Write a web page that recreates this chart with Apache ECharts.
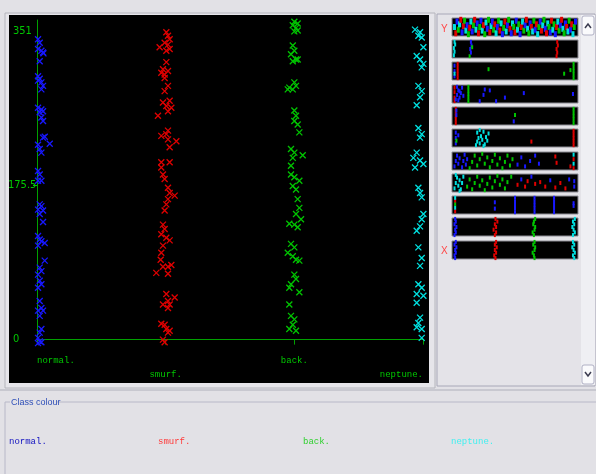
<!DOCTYPE html>
<html>
<head>
<meta charset="utf-8">
<script src="https://cdn.jsdelivr.net/npm/echarts@6/dist/echarts.min.js"></script>
<style>
  html, body { margin: 0; padding: 0; background: #e2e1e6; }
  #chart { width: 596px; height: 474px; }
</style>
</head>
<body>
<div id="chart"></div>
<script>
// class labels (x axis) and y ticks
const classNames = ['normal.', 'smurf.', 'back.', 'neptune.']
const yTicks = [0, 351]
const yMidTick = [175.5]

// main plot: [class position + jitter, instance number]
const normalPts = [
  [0.008, 342], [0.021, 338], [0.008, 331], [0.034, 329], [0.047, 327], [0.05, 326], [0.021, 317],
  [0.008, 300], [0.021, 297], [0.008, 295], [0.034, 293], [0.047, 289], [0.034, 285],
  [0.008, 264], [0.034, 262], [0.047, 260], [0.021, 259], [0.034, 253], [0.047, 249],
  [0.047, 230], [0.06, 231], [0.008, 222], [0.099, 223], [0.021, 217], [0.034, 213],
  [0.008, 192], [0.021, 188], [0.008, 181], [0.034, 181],
  [0.021, 154], [0.034, 152], [0.008, 148], [0.047, 147], [0.021, 143], [0.047, 134],
  [0.008, 118], [0.021, 114], [0.034, 112], [0.06, 110], [0.008, 107],
  [0.06, 90], [0.021, 82], [0.034, 78], [0.008, 74],
  [0.021, 67], [0.034, 63], [0.008, 59],
  [0.021, 44], [0.034, 36], [0.047, 33], [0.008, 33], [0.021, 27],
  [0.034, 12], [0.021, 8], [0.008, 2], [0.021, -2], [0.034, -3], [0.008, -4]
]
const smurfPts = [
  [1.005, 350], [1.018, 346], [1.031, 342], [0.992, 338], [1.018, 336], [0.953, 333], [1.031, 331], [1.005, 329],
  [1.005, 316], [0.979, 308], [0.966, 304], [0.992, 302], [1.018, 306], [0.992, 298],
  [1.018, 289], [0.992, 283],
  [0.979, 270], [1.031, 272], [1.005, 266], [1.044, 264], [1.018, 260], [0.94, 255],
  [1.018, 238], [1.005, 234], [0.966, 232], [1.018, 228], [1.083, 226], [1.031, 219],
  [0.966, 202], [1.031, 202], [0.966, 196], [0.979, 188], [0.992, 183],
  [1.018, 173], [1.031, 167], [1.07, 164], [1.018, 160], [1.005, 154], [0.992, 147],
  [0.979, 131], [0.992, 126], [0.966, 120], [1.005, 116], [1.031, 113], [0.979, 107],
  [0.966, 99], [0.961, 91], [1.044, 85], [0.979, 83], [1.018, 83], [0.927, 76], [1.018, 75],
  [1.005, 52], [1.07, 48], [1.018, 44], [0.979, 40], [1.031, 40], [1.018, 36],
  [0.966, 18], [0.992, 17], [1.005, 12], [1.018, 8], [1.031, 10], [0.979, 0], [0.992, -3]
]
const backPts = [
  [2, 362], [2.026, 360], [1.988, 358], [2.013, 355], [2, 351], [2.026, 352],
  [1.988, 335], [2, 329], [1.974, 325], [2.013, 319], [1.988, 317], [2.026, 319],
  [2, 293], [1.961, 287], [1.988, 285], [1.949, 285], [2.013, 289],
  [2, 261], [2.013, 255], [2, 249], [2.026, 245], [2.039, 236],
  [1.974, 217], [2, 213], [2.065, 210], [1.988, 207], [1.974, 198],
  [1.974, 188], [2, 185], [2.039, 181], [1.988, 175], [2.013, 171], [2.026, 160],
  [2.039, 150], [2.013, 143], [2.052, 137], [1.961, 132], [2, 131], [2.026, 128],
  [1.974, 109], [2, 105], [1.949, 99], [1.988, 95], [2.013, 91], [2.039, 90],
  [2, 74], [2.013, 69], [1.974, 63], [1.961, 59], [2.039, 54], [1.961, 40],
  [1.974, 27], [2, 23], [1.988, 17], [1.961, 12], [2.013, 10]
]
const neptunePts = [
  [2.938, 353], [2.977, 350], [2.964, 346], [2.99, 344], [3.003, 333],
  [2.951, 323], [2.977, 319], [3.003, 314], [2.99, 310],
  [2.964, 289], [2.99, 283], [2.977, 276], [2.951, 267],
  [2.964, 241], [2.99, 234], [2.977, 230],
  [2.951, 213], [2.925, 207], [2.977, 204], [3.003, 200], [2.938, 196],
  [2.964, 173], [2.977, 167], [2.99, 162],
  [3.003, 143], [2.99, 137], [2.977, 129], [2.951, 124],
  [2.964, 105], [2.99, 93], [2.977, 84],
  [2.964, 63], [2.99, 59], [2.951, 52], [3.003, 50], [2.951, 42],
  [2.977, 25], [2.964, 19], [2.951, 14], [2.99, 12], [2.99, 2]
]

// attribute strips on the right: [x fraction, y fraction, class index]
const strip1 = [
  [0.02, 0.5, 3], [0.03, 0.15, 1], [0.04, 0.8, 0], [0.05, 0.35, 2], [0.06, 0.65, 3], [0.07, 0.9, 1], [0.08, 0.2, 0],
  [0.09, 0.55, 1], [0.1, 0.85, 2], [0.11, 0.3, 3], [0.12, 0.6, 0], [0.13, 0.1, 2], [0.14, 0.45, 1], [0.15, 0.8, 3],
  [0.16, 0.25, 0], [0.17, 0.6, 2], [0.18, 0.9, 1], [0.19, 0.35, 3], [0.2, 0.7, 0], [0.21, 0.15, 1], [0.22, 0.5, 2],
  [0.23, 0.85, 0], [0.24, 0.3, 3], [0.25, 0.6, 1], [0.26, 0.1, 2], [0.27, 0.75, 3], [0.28, 0.4, 0], [0.29, 0.9, 2],
  [0.3, 0.2, 1], [0.31, 0.55, 3], [0.32, 0.8, 0], [0.33, 0.35, 2], [0.34, 0.65, 1], [0.35, 0.15, 3], [0.36, 0.5, 0],
  [0.37, 0.85, 2], [0.38, 0.3, 1], [0.39, 0.7, 3], [0.4, 0.1, 0], [0.41, 0.45, 2], [0.42, 0.8, 1], [0.43, 0.25, 3],
  [0.44, 0.6, 0], [0.45, 0.9, 2], [0.46, 0.4, 1], [0.47, 0.15, 0], [0.48, 0.7, 3], [0.49, 0.5, 2], [0.5, 0.2, 1],
  [0.51, 0.85, 0], [0.52, 0.35, 3], [0.53, 0.65, 2], [0.54, 0.1, 0], [0.55, 0.5, 1], [0.56, 0.8, 3], [0.57, 0.3, 2],
  [0.58, 0.6, 0], [0.59, 0.9, 1], [0.6, 0.4, 3], [0.61, 0.15, 2], [0.62, 0.7, 0], [0.63, 0.5, 1], [0.64, 0.25, 3],
  [0.65, 0.85, 2], [0.66, 0.35, 0], [0.67, 0.65, 1], [0.68, 0.1, 3], [0.69, 0.5, 2], [0.7, 0.8, 0], [0.71, 0.3, 1],
  [0.72, 0.6, 3], [0.73, 0.9, 2], [0.74, 0.4, 0], [0.75, 0.15, 1], [0.76, 0.7, 3], [0.77, 0.5, 2], [0.78, 0.2, 0],
  [0.79, 0.85, 1], [0.8, 0.35, 3], [0.81, 0.65, 2], [0.82, 0.1, 0], [0.83, 0.5, 1], [0.84, 0.8, 3], [0.85, 0.3, 2],
  [0.86, 0.6, 0], [0.87, 0.9, 1], [0.88, 0.4, 3], [0.89, 0.15, 2], [0.9, 0.7, 0], [0.91, 0.5, 1], [0.92, 0.25, 3],
  [0.93, 0.85, 2], [0.94, 0.35, 0], [0.95, 0.65, 1], [0.96, 0.1, 3], [0.97, 0.5, 2], [0.98, 0.8, 0]
]
const strip2 = [
  [0.015, 0.15, 3], [0.02, 0.35, 3], [0.015, 0.55, 3], [0.025, 0.75, 3], [0.02, 0.9, 3],
  [0.14, 0.1, 2], [0.15, 0.3, 0], [0.145, 0.5, 0], [0.155, 0.7, 0], [0.15, 0.9, 0], [0.16, 0.6, 2],
  [0.83, 0.1, 1], [0.835, 0.3, 1], [0.83, 0.5, 1], [0.84, 0.7, 1], [0.835, 0.9, 1]
]
const strip3 = [
  [0.02, 0.2, 0], [0.02, 0.5, 0], [0.02, 0.8, 0], [0.02, 0.35, 3],
  [0.045, 0.1, 1], [0.045, 0.3, 1], [0.045, 0.5, 1], [0.045, 0.7, 1], [0.045, 0.9, 1],
  [0.29, 0.6, 2], [0.89, 0.35, 2], [0.94, 0.55, 2],
  [0.965, 0.1, 2], [0.965, 0.3, 2], [0.965, 0.5, 2], [0.965, 0.7, 2], [0.965, 0.9, 2]
]
const strip4 = [
  [0.02, 0.1, 1], [0.02, 0.3, 1], [0.02, 0.6, 1], [0.02, 0.85, 1],
  [0.03, 0.2, 0], [0.04, 0.45, 0], [0.05, 0.7, 0], [0.06, 0.3, 0], [0.07, 0.55, 0], [0.08, 0.85, 0],
  [0.05, 0.15, 0], [0.09, 0.4, 0], [0.04, 0.9, 0], [0.06, 0.65, 0],
  [0.13, 0.1, 2], [0.13, 0.3, 2], [0.13, 0.5, 2], [0.13, 0.7, 2], [0.13, 0.9, 2],
  [0.22, 0.1, 0], [0.35, 0.1, 0], [0.25, 0.45, 0], [0.26, 0.75, 0], [0.3, 0.7, 0], [0.42, 0.3, 0],
  [0.57, 0.55, 0], [0.96, 0.5, 0]
]
const strip5 = [
  [0.03, 0.1, 1], [0.03, 0.3, 1], [0.03, 0.5, 1], [0.03, 0.7, 1], [0.03, 0.9, 1],
  [0.035, 0.55, 0], [0.035, 0.8, 0], [0.49, 0.2, 0], [0.5, 0.55, 2],
  [0.965, 0.1, 2], [0.965, 0.3, 2], [0.965, 0.5, 2], [0.965, 0.7, 2], [0.965, 0.9, 2]
]
const strip6 = [
  [0.03, 0.2, 0], [0.03, 0.5, 0], [0.03, 0.8, 0], [0.035, 0.35, 2], [0.05, 0.65, 0],
  [0.19, 0.1, 3], [0.2, 0.3, 3], [0.21, 0.5, 3], [0.2, 0.8, 3], [0.22, 0.2, 3], [0.23, 0.6, 3], [0.24, 0.4, 3],
  [0.25, 0.85, 3], [0.26, 0.15, 3], [0.27, 0.55, 3], [0.28, 0.35, 3], [0.29, 0.75, 3], [0.22, 0.95, 3], [0.25, 0.05, 3],
  [0.63, 0.3, 1],
  [0.965, 0.1, 1], [0.965, 0.3, 1], [0.965, 0.5, 1], [0.965, 0.7, 1], [0.965, 0.9, 1]
]
const strip7 = [
  [0.02, 0.2, 0], [0.03, 0.5, 0], [0.04, 0.8, 0], [0.05, 0.35, 0], [0.06, 0.65, 0], [0.08, 0.15, 0],
  [0.09, 0.5, 0], [0.1, 0.85, 0], [0.11, 0.3, 0], [0.12, 0.6, 0],
  [0.14, 0.1, 2], [0.16, 0.45, 2], [0.18, 0.8, 2], [0.2, 0.25, 2], [0.22, 0.6, 2], [0.24, 0.9, 2],
  [0.26, 0.35, 2], [0.28, 0.7, 2], [0.3, 0.15, 2], [0.32, 0.5, 2], [0.34, 0.85, 2], [0.36, 0.3, 2],
  [0.38, 0.65, 2], [0.4, 0.1, 2], [0.42, 0.45, 2], [0.44, 0.8, 2], [0.46, 0.25, 2], [0.48, 0.6, 2],
  [0.52, 0.3, 0], [0.55, 0.7, 0], [0.58, 0.2, 0], [0.62, 0.5, 0], [0.66, 0.8, 0], [0.69, 0.35, 0],
  [0.83, 0.4, 1], [0.94, 0.2, 1], [0.82, 0.75, 1],
  [0.965, 0.1, 1], [0.965, 0.35, 3], [0.965, 0.6, 1], [0.965, 0.85, 3]
]
const strip8 = [
  [0.02, 0.2, 3], [0.03, 0.5, 3], [0.04, 0.8, 3], [0.05, 0.35, 3], [0.06, 0.65, 3], [0.07, 0.15, 3],
  [0.08, 0.5, 3], [0.09, 0.85, 3], [0.03, 0.95, 3], [0.06, 0.05, 3],
  [0.12, 0.3, 2], [0.14, 0.7, 2], [0.16, 0.15, 2], [0.18, 0.5, 2], [0.2, 0.85, 2], [0.22, 0.35, 2],
  [0.24, 0.65, 2], [0.26, 0.1, 2], [0.28, 0.45, 2], [0.3, 0.8, 2], [0.32, 0.25, 2], [0.34, 0.6, 2],
  [0.36, 0.9, 2], [0.38, 0.4, 2], [0.4, 0.7, 2], [0.42, 0.2, 2], [0.44, 0.55, 2], [0.47, 0.85, 2],
  [0.52, 0.4, 1], [0.55, 0.7, 0], [0.58, 0.3, 1], [0.6, 0.6, 1], [0.63, 0.85, 0], [0.66, 0.45, 1],
  [0.7, 0.55, 1], [0.74, 0.3, 1], [0.78, 0.65, 0], [0.82, 0.25, 1], [0.86, 0.5, 1], [0.9, 0.2, 1],
  [0.93, 0.7, 0], [0.97, 0.3, 0], [0.97, 0.6, 0]
]
const strip9 = [
  [0.025, 0.15, 1], [0.025, 0.35, 3], [0.025, 0.55, 2], [0.025, 0.75, 1], [0.025, 0.9, 3],
  [0.34, 0.3, 0], [0.34, 0.65, 0],
  [0.5, 0.1, 0], [0.5, 0.3, 0], [0.5, 0.5, 0], [0.5, 0.7, 0], [0.5, 0.9, 0],
  [0.655, 0.1, 0], [0.655, 0.3, 0], [0.655, 0.5, 0], [0.655, 0.7, 0], [0.655, 0.9, 0],
  [0.81, 0.1, 0], [0.81, 0.3, 0], [0.81, 0.5, 0], [0.81, 0.7, 0], [0.81, 0.9, 0],
  [0.965, 0.45, 0], [0.965, 0.6, 0]
]
const strip10 = [
  [0.02, 0.05, 0], [0.03, 0.2, 0], [0.025, 0.35, 0], [0.035, 0.5, 0], [0.02, 0.65, 0], [0.03, 0.8, 0], [0.025, 0.95, 0],
  [0.34, 0.05, 1], [0.35, 0.2, 1], [0.33, 0.35, 1], [0.35, 0.5, 1], [0.34, 0.65, 1], [0.36, 0.8, 1], [0.345, 0.95, 1],
  [0.65, 0.05, 2], [0.64, 0.2, 2], [0.655, 0.35, 2], [0.66, 0.5, 2], [0.645, 0.65, 2], [0.65, 0.8, 2], [0.66, 0.95, 2],
  [0.96, 0.05, 3], [0.975, 0.2, 3], [0.965, 0.35, 3], [0.955, 0.5, 3], [0.97, 0.65, 3], [0.96, 0.8, 3], [0.975, 0.95, 3]
]
const strip11 = [
  [0.025, 0.05, 0], [0.02, 0.2, 0], [0.03, 0.35, 0], [0.025, 0.5, 0], [0.035, 0.65, 0], [0.02, 0.8, 0], [0.03, 0.95, 0],
  [0.345, 0.05, 1], [0.335, 0.2, 1], [0.35, 0.35, 1], [0.34, 0.5, 1], [0.355, 0.65, 1], [0.34, 0.8, 1], [0.35, 0.95, 1],
  [0.655, 0.05, 2], [0.65, 0.2, 2], [0.64, 0.35, 2], [0.655, 0.5, 2], [0.66, 0.65, 2], [0.645, 0.8, 2], [0.655, 0.95, 2],
  [0.97, 0.05, 3], [0.96, 0.2, 3], [0.975, 0.35, 3], [0.965, 0.5, 3], [0.955, 0.65, 3], [0.97, 0.8, 3], [0.96, 0.95, 3]
]

const strips = [strip1, strip2, strip3, strip4, strip5, strip6, strip7, strip8, strip9, strip10, strip11]
const stripTops = [18, 40, 62, 85, 107, 129, 152, 174, 196, 218, 241]

const pointColors = ['#1818ff', '#e00000', '#00c400', '#00e0e0']
const legendColors = ['#1010c0', '#ff3838', '#30d030', '#40f0f0']
const axisGreen = '#00a000'
const labelGreen = '#00c800'
const mono = '"Liberation Mono", "DejaVu Sans Mono", monospace'
const narrow = '"Liberation Sans Narrow", "DejaVu Sans Condensed", "Liberation Mono", monospace'

const chart = echarts.init(document.getElementById('chart'))

const grids = [{ left: 37, top: 20, width: 386, height: 324 }]
const xAxes = [{
  type: 'value', gridIndex: 0, min: 0, max: 3,
  axisLine: { lineStyle: { color: axisGreen, width: 1 } },
  axisTick: { customValues: [0, 1, 2, 3], length: 5, lineStyle: { color: axisGreen } },
  axisLabel: {
    customValues: [0, 1, 2, 3],
    margin: 10,
    color: labelGreen, fontFamily: mono, fontSize: 9, lineHeight: 14,
    alignMinLabel: 'left', alignMaxLabel: 'right',
    formatter: v => (v % 2 === 1 ? '\n' : '') + classNames[v]
  },
  splitLine: { show: false }
}]
const yAxes = [{
  type: 'value', gridIndex: 0, min: -5, max: 364,
  axisLine: { show: true, lineStyle: { color: axisGreen, width: 1 } },
  axisTick: { show: false },
  axisLabel: { customValues: yTicks, align: 'left', margin: 24, color: labelGreen, fontFamily: narrow, fontSize: 11 },
  splitLine: { show: false }
}, {
  type: 'value', gridIndex: 0, min: -5, max: 364, position: 'left',
  axisLine: { show: false },
  axisTick: { show: true, customValues: yMidTick, length: 4, lineStyle: { color: labelGreen } },
  axisLabel: { customValues: yMidTick, align: 'left', margin: 29, color: labelGreen, fontFamily: narrow, fontSize: 11 },
  splitLine: { show: false }
}]

const crossSymbol = 'path://M0 0L10 10M10 0L0 10'
const series = [normalPts, smurfPts, backPts, neptunePts].map((pts, i) => ({
  name: classNames[i],
  type: 'scatter',
  xAxisIndex: 0, yAxisIndex: 0,
  data: pts,
  clip: false,
  symbol: crossSymbol,
  symbolSize: 6,
  itemStyle: { color: 'rgba(0,0,0,0)', borderColor: pointColors[i], borderWidth: 1.3, opacity: 1 },
  z: 5
}))

strips.forEach((pts, k) => {
  grids.push({
    left: 452, top: stripTops[k], width: 126, height: 18,
    show: true, backgroundColor: '#000', borderColor: '#8c8c94', borderWidth: 1
  })
  xAxes.push({ type: 'value', gridIndex: k + 1, min: 0, max: 1, show: false })
  yAxes.push({ type: 'value', gridIndex: k + 1, min: 0, max: 1, show: false })
  series.push({
    name: 'strip' + (k + 1),
    type: 'scatter',
    xAxisIndex: k + 1, yAxisIndex: k + 2,
    data: pts,
    symbol: 'rect',
    symbolSize: k === 0 ? [3, 6] : [2, 4],
    itemStyle: { color: p => pointColors[p.data[2]], opacity: 1 },
    silent: true
  })
})

const legendX = [8, 157, 302, 450]
const legends = classNames.map((n, i) => ({
  data: [{ name: n, textStyle: { color: legendColors[i] } }],
  left: legendX[i] - 5, top: 437,
  itemWidth: 0, itemHeight: 0, padding: 0,
  selectedMode: false,
  textStyle: { fontFamily: mono, fontSize: 9 }
}))

chart.setOption({
  animation: false,
  backgroundColor: '#e2e1e6',
  grid: grids,
  xAxis: xAxes,
  yAxis: yAxes,
  legend: legends,
  series,
  graphic: [
    { type: 'rect', z: -10, shape: { x: 5, y: 13, width: 430, height: 375 }, style: { fill: '#e6e5ea', stroke: '#b4b4bc', lineWidth: 1 } },
    { type: 'rect', z: -9, shape: { x: 9, y: 15, width: 420, height: 368 }, style: { fill: '#000' } },
    { type: 'rect', z: -10, shape: { x: 437, y: 14, width: 158, height: 372 }, style: { fill: '#e4e3e8', stroke: '#a8a8b8', lineWidth: 1 } },
    { type: 'rect', z: -9, shape: { x: 581, y: 15, width: 14, height: 370 }, style: { fill: '#efeff3' } },
    { type: 'rect', shape: { x: 582, y: 16, width: 12, height: 19, r: 2 }, style: { fill: '#fafafc', stroke: '#b0b0c4' } },
    { type: 'polyline', shape: { points: [[585, 28], [588, 24], [591, 28]] }, style: { stroke: '#3c3c50', lineWidth: 1.5, fill: null } },
    { type: 'rect', shape: { x: 582, y: 365, width: 12, height: 19, r: 2 }, style: { fill: '#fafafc', stroke: '#b0b0c4' } },
    { type: 'polyline', shape: { points: [[585, 372], [588, 376], [591, 372]] }, style: { stroke: '#3c3c50', lineWidth: 1.5, fill: null } },
    { type: 'text', x: 441, y: 24, style: { text: 'Y', fill: '#ff4848', font: '10px "Liberation Sans", sans-serif' } },
    { type: 'text', x: 441, y: 246, style: { text: 'X', fill: '#ff4848', font: '10px "Liberation Sans", sans-serif' } },
    { type: 'rect', shape: { x: 0, y: 389, width: 596, height: 2 }, style: { fill: '#c8c8d0' } },
    { type: 'polyline', shape: { points: [[10, 402], [5, 402], [5, 474]] }, style: { stroke: '#b8b8c8', fill: null } },
    { type: 'line', shape: { x1: 56, y1: 402, x2: 596, y2: 402 }, style: { stroke: '#b8b8c8' } },
    { type: 'text', x: 11, y: 398, style: { text: 'Class colour', fill: '#2f4fb8', font: '9px "Liberation Sans Narrow", "Liberation Sans", sans-serif' } }
  ]
})
</script>
</body>
</html>
